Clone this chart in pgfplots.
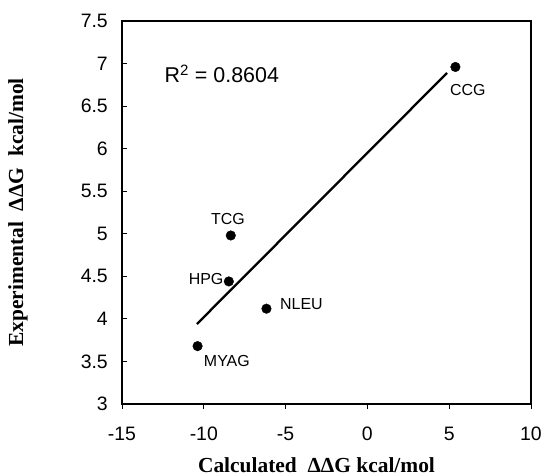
\documentclass[border=0pt]{standalone}
\usepackage{fontspec}
\usepackage{pgfplots}
\pgfplotsset{compat=1.18}
\setmainfont{Liberation Sans}
\newfontfamily\tnr{Liberation Serif}

% measured off the reference, calc vs exp ddG
\pgfplotstableread{
x      y
5.38   6.96
-8.35  4.98
-8.47  4.44
-6.17  4.12
-10.38 3.68
}\pts

\begin{document}
\begin{tikzpicture}
\begin{axis}[
    name=ax,
    width=409bp, height=383bp,
    scale only axis,
    xmin=-15, xmax=10,
    ymin=3, ymax=7.5,
    xtick={-15,-10,-5,0,5,10},
    ytick={3,3.5,4,4.5,5,5.5,6,6.5,7,7.5},
    tick pos=left,
    tick align=inside,
    major tick length=5bp,
    every major x tick/.append style={yshift=-5bp},
    axis line style={line width=1.2bp},
    tick style={line width=0.8bp, black},
    /pgf/number format/assume math mode=true,
    yticklabel style={font=\fontsize{19.5}{22}\selectfont, inner sep=0pt, anchor=east, xshift=-14bp},
    xticklabel style={font=\fontsize{19.5}{22}\selectfont, inner sep=0pt, anchor=north, yshift=-23bp},
    xlabel={\tnr\bfseries Calculated\ \ ΔΔG kcal/mol},
    ylabel={\tnr\bfseries Experimental\ \ ΔΔG\ \ kcal/mol},
    every axis x label/.style={at={(axis description cs:0.5,0)}, anchor=center, yshift=-61bp, xshift=-10bp, font=\fontsize{21.5}{25}\selectfont},
    every axis y label/.style={at={(axis description cs:0,0.5)}, anchor=center, xshift=-104bp, rotate=90, font=\fontsize{21.5}{25}\selectfont},
    clip=false,
]
\addplot[only marks, mark=*, mark size=4.8bp, black] table[x=x, y=y] {\pts};
\addplot[black, line width=2.3bp] coordinates {(-10.42,3.94) (4.87,6.89)};

\begin{scope}[every node/.style={inner sep=0pt, font=\fontsize{16}{19}\selectfont}]
\node[anchor=west] at (axis cs:5.04,6.69) {CCG};
\node[anchor=center] at (axis cs:-8.52,5.17) {TCG};
\node[anchor=east] at (axis cs:-8.79,4.47) {HPG};
\node[anchor=west] at (axis cs:-5.34,4.17) {NLEU};
\node[anchor=west] at (axis cs:-10.0,3.51) {MYAG};
\end{scope}
\node[anchor=west, inner sep=0pt, font=\fontsize{21.5}{25}\selectfont] at (axis cs:-12.4,6.88) {R\textsuperscript{2} = 0.8604};
\end{axis}
\pgfresetboundingbox
\path[use as bounding box] ([xshift=-122bp,yshift=-72bp]ax.south west) rectangle ([xshift=12bp,yshift=21bp]ax.north east);
\end{tikzpicture}
\end{document}
